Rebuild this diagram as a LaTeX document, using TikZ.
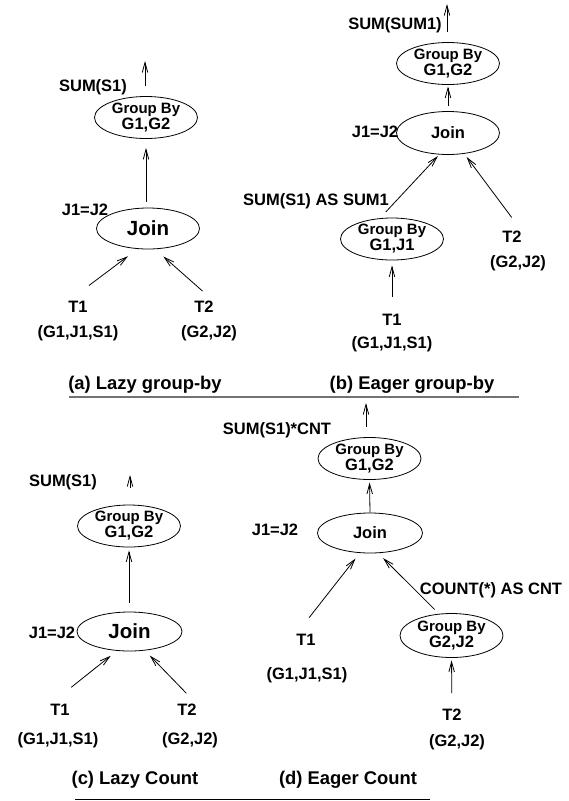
\documentclass[tikz,border=0pt]{standalone}
\usepackage{fontspec}
\setmainfont{Liberation Sans}
\usetikzlibrary{shapes.geometric,arrows.meta}

\begin{document}
\begin{tikzpicture}[x=1pt,y=-1pt,
  op/.style={draw,ellipse,line width=0.8pt,inner sep=0pt,minimum width=103pt,minimum height=42pt,align=center,font=\bfseries\fontsize{15}{16}\selectfont},
  lbl/.style={inner sep=0pt,font=\bfseries\fontsize{16.5}{18}\selectfont},
  captext/.style={inner sep=0pt,font=\bfseries\fontsize{18.4}{20}\selectfont},
  conn/.style={-{Straight Barb[length=10pt,width=5.5pt]},line width=0.8pt}]
\useasboundingbox (0,0) rectangle (569,801);
\def\jbig{\fontsize{20.5}{22}\selectfont}
\def\jsml{\fontsize{16.5}{18}\selectfont}
\def\grp#1{{\fontsize{16.5}{16}\selectfont #1}}

% (a) lazy group-by
\coordinate (outa) at (145,61);
\node[lbl] (suma) at (93,87) {SUM(S1)};
\node[op] (gba) at (146,117.5) {Group By\\\grp{G1,G2}};
\node[op,minimum height=41pt] (joina) at (148,228.5) {\jbig Join};
\node[lbl] (eqa) at (85,210) {J1=J2};
\node[lbl] (t1a) at (78,307) {T1};
\node[lbl] (r1a) at (78,333) {(G1,J1,S1)};
\node[lbl] (t2a) at (204,307) {T2};
\node[lbl] (r2a) at (209,333) {(G2,J2)};
\node[captext] (capa) at (145,385) {(a) Lazy group-by};
\draw[conn,shorten <=10pt] (gba.north -| outa) -- (outa);
\draw[conn,shorten <=6pt,shorten >=9pt] (joina.north -| gba.south) -- (gba.south);
\draw[conn,shorten <=26pt,shorten >=12pt] (t1a.north west) -- (joina.243);
\draw[conn,shorten <=15pt,shorten >=11pt] (t2a.north east) -- (joina.289);

% (b) eager group-by
\coordinate (outb) at (447,4);
\node[lbl] (sumb) at (395,25) {SUM(SUM1)};
\node[op] (gbb) at (448,63.5) {Group By\\\grp{G1,G2}};
\node[op,minimum height=43pt] (joinb) at (448,133) {\jsml Join};
\node[lbl] (eqb) at (375,132) {J1=J2};
\node[lbl] (sumj) at (316,201) {SUM(S1) AS SUM1};
\node[op] (gbj) at (392,239) {Group By\\\grp{G1,J1}};
\node[lbl] (t1b) at (392,320) {T1};
\node[lbl] (r1b) at (392,344) {(G1,J1,S1)};
\node[lbl] (t2b) at (512,237) {T2};
\node[lbl] (r2b) at (518,263) {(G2,J2)};
\node[captext] (capb) at (412,385) {(b) Eager group-by};
\draw[conn,shorten <=10pt] (gbb.north -| outb) -- (outb);
\draw[conn,shorten <=5.5pt,shorten >=1.5pt] (joinb.north -| gbb.south) -- (gbb.south);
\draw[conn,shorten <=8.5pt,shorten >=2pt] (gbj.120) -- (joinb.248);
\draw[conn,shorten <=17pt,shorten >=5pt] (t1b.north) -- (gbj.south);
\draw[conn,shorten <=17pt,shorten >=4pt] (t2b.north east) -- (joinb.308);

\draw[line width=1.3pt,black!55] (69,397) -- (519,397);

% (c) lazy count
\coordinate (outc) at (130,475);
\node[lbl] (sumc) at (63,482) {SUM(S1)};
\node[op] (gbc) at (129,526) {Group By\\\grp{G1,G2}};
\node[op,minimum width=105pt,minimum height=39pt] (joinc) at (129.5,631.5) {\jbig Join};
\node[lbl] (eqc) at (52,633) {J1=J2};
\node[lbl] (t1c) at (60,710) {T1};
\node[lbl] (r1c) at (58,740) {(G1,J1,S1)};
\node[lbl] (t2c) at (187,710) {T2};
\node[lbl] (r2c) at (190,740) {(G2,J2)};
\node[captext] (capc) at (135,780) {(c) Lazy Count};
\draw[conn,shorten <=17pt] (gbc.north -| outc) -- (outc);
\draw[conn,shorten <=8.5pt,shorten >=3pt] (joinc.north -| gbc.south) -- (gbc.south);
\draw[conn,shorten <=27pt,shorten >=8pt] (t1c.north west) -- (joinc.237);
\draw[conn,shorten <=15pt,shorten >=7pt] (t2c.north east) -- (joinc.309);

% (d) eager count
\coordinate (outd) at (366,403);
\node[lbl] (sumd) at (277,430) {SUM(S1)*CNT};
\node[op] (gbd) at (369.5,458.5) {Group By\\\grp{G1,G2}};
\node[op,minimum width=105pt,minimum height=40pt] (joind) at (370,533) {\jsml Join};
\node[lbl] (eqd) at (275,530) {J1=J2};
\node[lbl] (cntd) at (491,590) {COUNT(*) AS CNT};
\node[op,minimum height=44pt] (gbe) at (451.5,635.5) {Group By\\\grp{G2,J2}};
\node[lbl] (t1d) at (306,640) {T1};
\node[lbl] (r1d) at (307,675) {(G1,J1,S1)};
\node[lbl] (t2d) at (452,715) {T2};
\node[lbl] (r2d) at (457,742) {(G2,J2)};
\node[captext] (capd) at (348,780) {(d) Eager Count};
\draw[conn,shorten <=10pt] (gbd.north -| outd) -- (outd);
\draw[conn,shorten >=2.5pt] (joind.north) -- (gbd.south);
\draw[conn,shorten <=21pt,shorten >=7pt] (t1d.north west) -- (joind.243);
\draw[conn,shorten <=6pt,shorten >=7pt] (gbe.120) -- (joind.292);
\draw[conn,shorten <=16pt,shorten >=2.5pt] (t2d.north) -- (gbe.south);

\draw[line width=0.9pt] (75,799) -- (430,799);
\end{tikzpicture}
\end{document}
